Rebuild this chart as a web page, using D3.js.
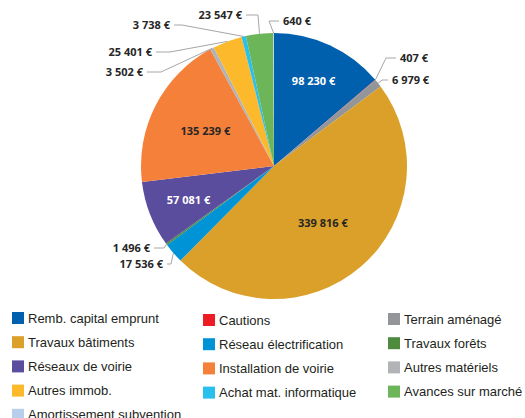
<!DOCTYPE html>
<html>
<head>
<meta charset="utf-8">
<script src="https://cdn.jsdelivr.net/npm/d3@7"></script>
<style>
  body { margin: 0; background: #fff; }
  svg { display: block; }
</style>
</head>
<body>
<svg id="chart"></svg>
<script>
const width = 525
const height = 418

// categories, in slice / legend order
const categories = [
  "Remb. capital emprunt", "Cautions", "Terrain aménagé",
  "Travaux bâtiments", "Réseau électrification", "Travaux forêts",
  "Réseaux de voirie", "Installation de voirie", "Autres matériels",
  "Autres immob.", "Achat mat. informatique", "Avances sur marché",
  "Amortissement subvention"
]
const values = [98230, 407, 6979, 339816, 17536, 1496, 57081, 135239, 3502, 25401, 3738, 23547, 640]
const colors = [
  "#0060ad", "#ed1c24", "#939598",
  "#daa029", "#0093d6", "#4e8b3f",
  "#5b4d9d", "#f48039", "#b1b3b6",
  "#fdb92c", "#2ac0ee", "#6cb558",
  "#b7cfec"
]

// label placement (Excel style): inside labels at a fraction of the radius,
// outside labels at an offset from the pie centre with a leader line
const labelLayout = [
  { inside: 0.71, fill: "#fff" },
  { dx: 126, dy: -109, anchor: "start", leg: 10 },
  { dx: 118, dy: -87, anchor: "start", leg: 6 },
  { inside: 0.56, fill: "#262626" },
  { dx: -111, dy: 97, anchor: "end", leg: 4 },
  { dx: -124, dy: 81, anchor: "end", leg: 10 },
  { inside: 0.69, fill: "#fff" },
  { inside: 0.58, fill: "#262626" },
  { dx: -131, dy: -95, anchor: "end", leg: 14 },
  { dx: -122, dy: -115, anchor: "end", leg: 14 },
  { dx: -104, dy: -142, anchor: "end", leg: 8 },
  { dx: -32, dy: -152, anchor: "end", leg: 12 },
  { dx: 9, dy: -146, anchor: "start", leg: 10 }
]

const cx = 274, cy = 166, r = 133
const fmt = v => d3.format(",")(v).replace(/,/g, " ") + " €"

const svg = d3.select("#chart")
  .attr("width", width)
  .attr("height", height)

const pie = d3.pie().sort(null).value(d => d.value)
const arcs = pie(categories.map((c, i) => ({ name: c, value: values[i], i })))
const arc = d3.arc().innerRadius(0).outerRadius(r)

const g = svg.append("g").attr("transform", `translate(${cx},${cy})`)

g.selectAll("path")
  .data(arcs)
  .join("path")
  .attr("d", arc)
  .attr("fill", d => colors[d.data.i])

const onArc = (a, rad) => [rad * Math.sin(a), -rad * Math.cos(a)]

// data labels + leader lines
arcs.forEach(d => {
  const lay = labelLayout[d.data.i]
  const mid = (d.startAngle + d.endAngle) / 2
  const txt = fmt(d.data.value)
  if (lay.inside) {
    const [x, y] = onArc(mid, r * lay.inside)
    g.append("text")
      .attr("x", x).attr("y", y)
      .attr("text-anchor", "middle")
      .attr("dominant-baseline", "central")
      .attr("font-family", "'Open Sans', sans-serif")
      .attr("font-weight", "bold")
      .attr("font-size", 11)
      .attr("fill", lay.fill)
      .text(txt)
  } else {
    g.append("text")
      .attr("x", lay.dx).attr("y", lay.dy)
      .attr("text-anchor", lay.anchor)
      .attr("dominant-baseline", "central")
      .attr("font-family", "'Open Sans', sans-serif")
      .attr("font-weight", "bold")
      .attr("font-size", 11)
      .attr("fill", "#262626")
      .text(txt)
    const side = lay.anchor === "start" ? -1 : 1
    const p0 = onArc(mid, r)
    const p2 = [lay.dx + side * 4, lay.dy + 1]
    const p1 = [lay.dx + side * (4 + lay.leg), lay.dy + 1]
    g.insert("path", "text")
      .attr("d", d3.line()([p0, p1, p2]))
      .attr("fill", "none")
      .attr("stroke", "#a6a6a6")
      .attr("stroke-width", 1)
  }
})

// legend, 3 columns row-major
const colX = [12, 203, 388]
const colY0 = [312, 314, 313]
const rowStep = 24.2

const legend = svg.append("g")
  .selectAll("g")
  .data(categories)
  .join("g")
  .attr("transform", (d, i) => `translate(${colX[i % 3]},${colY0[i % 3] + Math.floor(i / 3) * rowStep})`)

legend.append("rect")
  .attr("width", 12)
  .attr("height", 12)
  .attr("fill", (d, i) => colors[i])

legend.append("text")
  .attr("x", 16)
  .attr("y", 6)
  .attr("dominant-baseline", "central")
  .attr("font-family", "'Liberation Sans', Arial, sans-serif")
  .attr("font-size", 13)
  .attr("fill", "#231f20")
  .text(d => d)
</script>
</body>
</html>
